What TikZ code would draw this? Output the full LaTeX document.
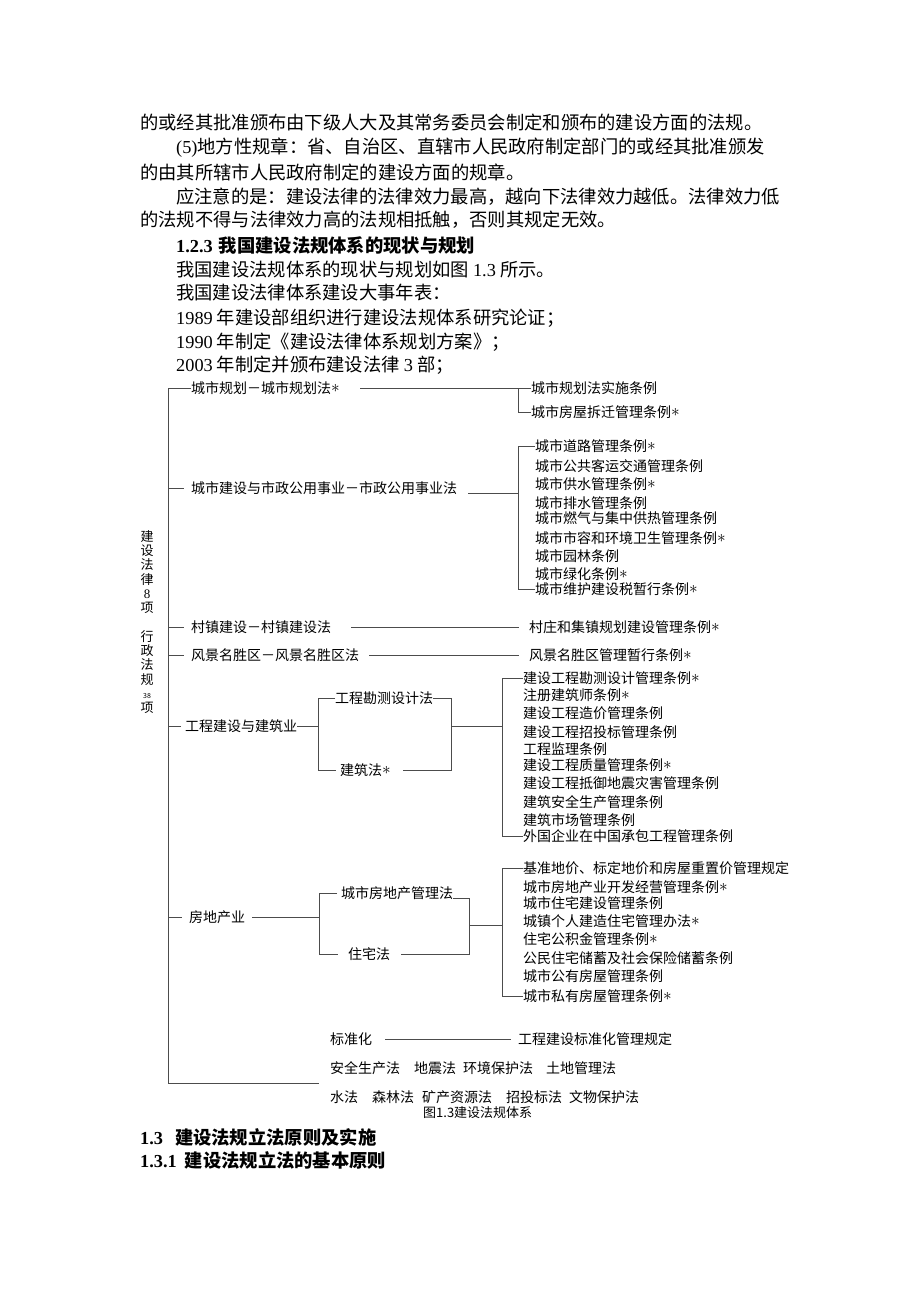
\documentclass[tikz,border=0pt]{standalone}
\usepackage{fontspec}
\setmainfont{Liberation Serif}
\newfontfamily\cjk{Noto Sans CJK SC}
\XeTeXlinebreaklocale "zh"
\XeTeXlinebreakskip=0pt plus 1pt
\usetikzlibrary{positioning}

\newcommand\xing{\raisebox{0.5pt}{\fontsize{18}{18}\selectfont$\ast$}}

\tikzset{
  para/.style={anchor=west, inner sep=0pt, font=\cjk\fontsize{18.3}{22}\selectfont},
  head/.style={para, font=\cjk\bfseries\fontsize{18.3}{22}\selectfont},
  leaf/.style={anchor=west, inner sep=0pt, font=\cjk\fontsize{14}{16}\selectfont},
  figcap/.style={leaf, font=\cjk\fontsize{13}{15}\selectfont},
  tree/.style={line width=1pt, black!70},
}

\begin{document}
\begin{tikzpicture}[x=1pt, y=-1pt]
    \useasboundingbox (0,0) rectangle (920,1302);

    % text above the figure
    \node[para] (p1) at (140,123) {的或经其批准颁布由下级人大及其常务委员会制定和颁布的建设方面的法规。};
    \node[para] (p2) at (176,148) {\makebox[603pt][s]{{\rmfamily (5)}地方性规章：省、自治区、直辖市人民政府制定部门的或经其批准颁发}};
    \node[para] (p3) at (140,172) {的由其所辖市人民政府制定的建设方面的规章。};
    \node[para] (p4) at (176,197) {\makebox[603pt][s]{应注意的是：建设法律的法律效力最高，越向下法律效力越低。法律效力低}};
    \node[para] (p5) at (140,220) {的法规不得与法律效力高的法规相抵触，否则其规定无效。};
    \node[head] (h1) at (176,245) {{\rmfamily 1.2.3}\hspace{6pt}我国建设法规体系的现状与规划};
    \node[para] (p6) at (176,270) {我国建设法规体系的现状与规划如图 {\rmfamily 1.3} 所示。};
    \node[para] (p7) at (176,293) {我国建设法律体系建设大事年表：};
    \node[para] (p8) at (176,318) {{\rmfamily 1989} 年建设部组织进行建设法规体系研究论证；};
    \node[para] (p9) at (176,342) {{\rmfamily 1990} 年制定《建设法律体系规划方案》；};
    \node[para] (p10) at (176,365) {{\rmfamily 2003} 年制定并颁布建设法律 {\rmfamily 3} 部；};

    % trunk and its label
    \coordinate (tbot) at (168,1083);
    \coordinate (tend) at (319,1083);
    \node[align=center, inner sep=0pt, font=\cjk\fontsize{13}{14.3}\selectfont] (lbl) at (147,622)
      {建\\设\\法\\律\\{\rmfamily 8}\\项\\[14pt]行\\政\\法\\规\\{\fontsize{7}{7}\selectfont 38}\\项};

    % city planning
    \node[leaf] (gh) at (191,388) {城市规划－城市规划法\xing};
    \coordinate (ghk) at (518,388);
    \node[leaf] (gh1) at (531,388) {城市规划法实施条例};
    \node[leaf] (gh2) at (531,412) {城市房屋拆迁管理条例\xing};
    \draw[tree] (gh.west) -| (tbot) -- (tend);
    \draw[tree] ([xshift=20pt]gh.east) -- (ghk);
    \draw[tree] (gh1.west) -| (ghk |- gh2.west) -- (gh2.west);

    % public utilities
    \node[leaf] (gs) at (191,488) {城市建设与市政公用事业－市政公用事业法};
    \coordinate (gsk) at (518,493);
    \foreach \t/\y [count=\i] in {城市道路管理条例\xing/446, 城市公共客运交通管理条例/466,
        城市供水管理条例\xing/484, 城市排水管理条例/503, 城市燃气与集中供热管理条例/518,
        城市市容和环境卫生管理条例\xing/538, 城市园林条例/556, 城市绿化条例\xing/574,
        城市维护建设税暂行条例\xing/589}
      \node[leaf] (gs\i) at (535,\y) {\t};
    \draw[tree] (gs.west -| tbot) -- ([xshift=-7pt]gs.west);
    \draw[tree] ([xshift=11pt,yshift=-5pt]gs.east) -- (gsk);
    \draw[tree] (gs1.west) -| (gsk |- gs9.west) -- (gs9.west);

    % villages and scenic areas
    \node[leaf] (cz) at (191,627) {村镇建设－村镇建设法};
    \node[leaf] (cz1) at (529,627) {村庄和集镇规划建设管理条例\xing};
    \draw[tree] (cz.west -| tbot) -- ([xshift=-7pt]cz.west);
    \draw[tree] ([xshift=20pt]cz.east) -- ([xshift=-10pt]cz1.west);
    \node[leaf] (fj) at (191,655) {风景名胜区－风景名胜区法};
    \node[leaf] (fj1) at (529,655) {风景名胜区管理暂行条例\xing};
    \draw[tree] (fj.west -| tbot) -- ([xshift=-7pt]fj.west);
    \draw[tree] ([xshift=10pt]fj.east) -- ([xshift=-10pt]fj1.west);

    % engineering and building
    \node[leaf] (gc) at (185,726) {工程建设与建筑业};
    \coordinate (gck) at (318,726);
    \coordinate (gcr) at (451,726);
    \coordinate (gcm) at (502,726);
    \node[leaf] (kc) at (335,698) {工程勘测设计法};
    \node[leaf] (jz) at (340,770) {建筑法\xing};
    \foreach \t/\y [count=\i] in {建设工程勘测设计管理条例\xing/678, 注册建筑师条例\xing/695,
        建设工程造价管理条例/713, 建设工程招投标管理条例/732, 工程监理条例/749,
        建设工程质量管理条例\xing/765, 建设工程抵御地震灾害管理条例/783,
        建筑安全生产管理条例/802, 建筑市场管理条例/820, 外国企业在中国承包工程管理条例/836}
      \node[leaf] (gc\i) at (523,\y) {\t};
    \draw[tree] (gc.west -| tbot) -- ([xshift=-4pt]gc.west);
    \draw[tree] (gc.east) -- (gck);
    \draw[tree] (kc.west) -| (gck |- jz.west) -- ([xshift=-4pt]jz.west);
    \draw[tree] (kc.east) -| (gcr |- jz.east) -- ([xshift=12pt]jz.east);
    \draw[tree] (gcr) -- (gcm);
    \draw[tree] (gc1.west) -| (gcm |- gc10.west) -- (gc10.west);

    % real estate
    \node[leaf] (fd) at (189,917) {房地产业};
    \coordinate (fdk) at (319,917);
    \coordinate (fdr) at (469,925);
    \coordinate (fdm) at (502,925);
    \node[leaf] (fdg) at (341,893) {城市房地产管理法};
    \node[leaf] (zz) at (348,954) {住宅法};
    \foreach \t/\y [count=\i] in {基准地价、标定地价和房屋重置价管理规定/868,
        城市房地产业开发经营管理条例\xing/887, 城市住宅建设管理条例/903,
        城镇个人建造住宅管理办法\xing/921, 住宅公积金管理条例\xing/939,
        公民住宅储蓄及社会保险储蓄条例/958, 城市公有房屋管理条例/976,
        城市私有房屋管理条例\xing/996}
      \node[leaf] (fd\i) at (523,\y) {\t};
    \draw[tree] (fd.west -| tbot) -- ([xshift=-7pt]fd.west);
    \draw[tree] ([xshift=7pt]fd.east) -- (fdk);
    \draw[tree] ([xshift=-4pt]fdg.west) -| (fdk |- zz.west) -- ([xshift=-10pt]zz.west);
    \draw[tree] ([yshift=-5pt]fdg.east) -| (fdr |- zz.east) -- ([xshift=11pt]zz.east);
    \draw[tree] (fdr) -- (fdm);
    \draw[tree] (fd1.west) -| (fdm |- fd8.west) -- (fd8.west);

    % standards and other laws
    \node[leaf] (bz) at (330,1039) {标准化};
    \node[leaf] (bz1) at (518,1039) {工程建设标准化管理规定};
    \draw[tree] ([xshift=13pt]bz.east) -- ([xshift=-7pt]bz1.west);
    \foreach \t/\x [count=\i] in {安全生产法/330, 地震法/414, 环境保护法/463, 土地管理法/546}
      \node[leaf] (qa\i) at (\x,1068) {\t};
    \foreach \t/\x [count=\i] in {水法/330, 森林法/372, 矿产资源法/422, 招投标法/506, 文物保护法/569}
      \node[leaf] (sf\i) at (\x,1097) {\t};
    \node[figcap] (fig) at (423,1113) {图1.3建设法规体系};

    % text below the figure
    \node[head] (h2) at (140,1137) {{\rmfamily 1.3}\hspace{12pt}建设法规立法原则及实施};
    \node[head] (h3) at (140,1160) {{\rmfamily 1.3.1}\hspace{8pt}建设法规立法的基本原则};
\end{tikzpicture}
\end{document}
